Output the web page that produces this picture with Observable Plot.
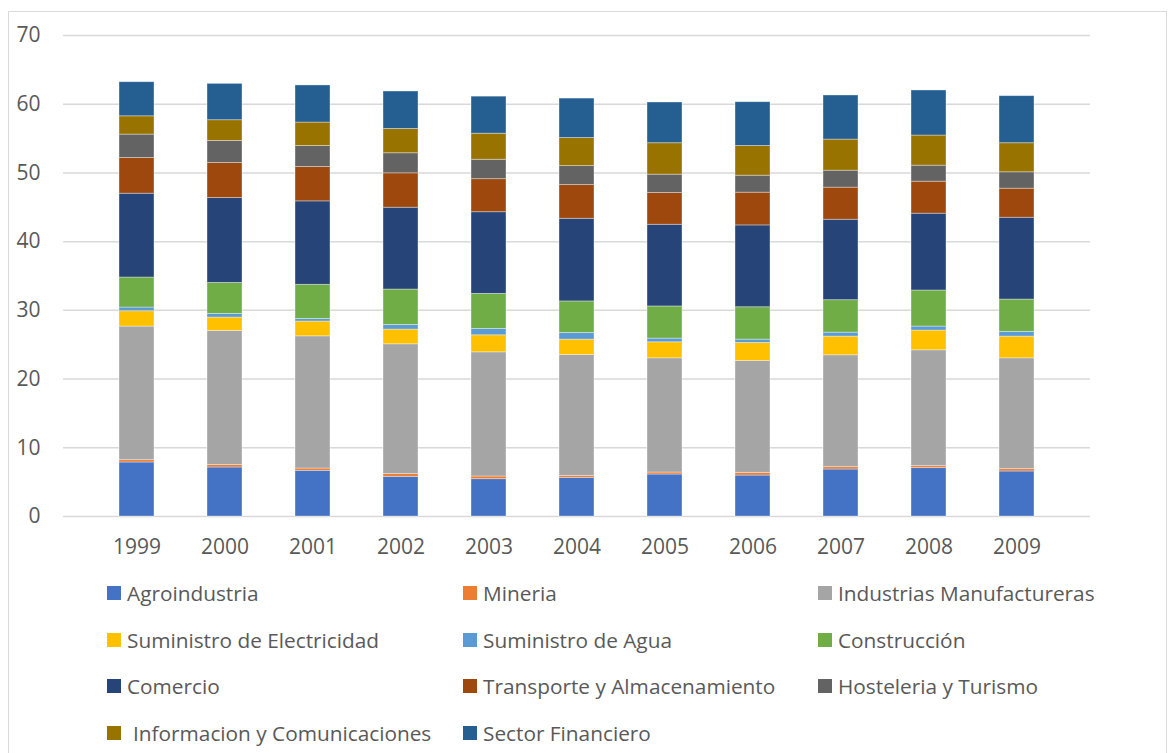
<!DOCTYPE html>
<html>
<head>
<meta charset="utf-8">
<script src="https://cdn.jsdelivr.net/npm/d3@7"></script>
<script src="https://cdn.jsdelivr.net/npm/@observablehq/plot@0.6"></script>
<style>
  html, body { margin: 0; padding: 0; background: #fff; }
  body { width: 1172px; height: 753px; overflow: hidden; position: relative; font-family: "Open Sans", sans-serif; }
  #frame { position: absolute; left: 8px; top: 11px; width: 1159px; height: 780px; border: 1px solid #d9d9d9; box-sizing: border-box; }
  #chart { position: absolute; left: 0; top: 0; }
  #legend { position: absolute; left: 0; top: 0; width: 1172px; }
  .item { position: absolute; display: flex; align-items: center; font-size: 20.8px; color: #595959; white-space: nowrap; line-height: 1; }
  .sw { width: 14px; height: 14px; margin-right: 6px; flex: none; }
</style>
</head>
<body>
<div id="frame"></div>
<div id="chart"></div>
<div id="legend"></div>
<script>
const years = ["1999","2000","2001","2002","2003","2004","2005","2006","2007","2008","2009"];
const series = ["Agroindustria","Mineria","Industrias Manufactureras","Suministro de Electricidad","Suministro de Agua","Construcción","Comercio","Transporte y Almacenamiento","Hosteleria y Turismo","Informacion y Comunicaciones","Sector Financiero"];
const colors = ["#4472C4","#ED7D31","#A5A5A5","#FFC000","#5B9BD5","#70AD47","#264478","#9E480E","#636363","#997300","#255E91"];

const agroindustria   = [7.86, 7.13, 6.65, 5.77, 5.43, 5.63, 6.11, 5.96, 6.84, 7.04, 6.55];
const mineria         = [0.34, 0.35, 0.33, 0.40, 0.39, 0.29, 0.29, 0.40, 0.34, 0.29, 0.34];
const industrias      = [19.44, 19.53, 19.24, 18.89, 18.07, 17.59, 16.62, 16.28, 16.28, 16.86, 16.13];
const electricidad    = [2.23, 1.94, 2.15, 2.14, 2.48, 2.23, 2.33, 2.62, 2.72, 2.87, 3.16];
const agua            = [0.54, 0.54, 0.39, 0.68, 0.93, 0.97, 0.54, 0.48, 0.58, 0.58, 0.69];
const construccion    = [4.37, 4.51, 4.96, 5.15, 5.10, 4.59, 4.68, 4.71, 4.72, 5.25, 4.70];
const comercio        = [12.20, 12.34, 12.14, 11.91, 11.88, 12.03, 11.89, 11.91, 11.71, 11.18, 11.91];
const transporte      = [5.19, 5.10, 5.00, 5.00, 4.81, 4.90, 4.61, 4.77, 4.67, 4.66, 4.23];
const hosteleria      = [3.41, 3.21, 3.06, 2.92, 2.83, 2.76, 2.68, 2.47, 2.47, 2.33, 2.38];
const informacion     = [2.66, 3.02, 3.41, 3.54, 3.79, 4.09, 4.57, 4.32, 4.52, 4.38, 4.23];
const financiero      = [4.96, 5.29, 5.40, 5.45, 5.39, 5.74, 5.93, 6.37, 6.42, 6.56, 6.85];

const valueLists = [agroindustria, mineria, industrias, electricidad, agua, construccion, comercio, transporte, hosteleria, informacion, financiero];
const yTicks = [0, 10, 20, 30, 40, 50, 60, 70];

const data = [];
series.forEach((s, i) => years.forEach((y, j) => data.push({year: y, series: s, value: valueLists[i][j]})));

const plot = Plot.plot({
  width: 1172,
  height: 566,
  marginTop: 35,
  marginBottom: 50,
  marginLeft: 63,
  marginRight: 82,
  style: {fontFamily: "'Open Sans', sans-serif", fontSize: "20px", color: "#595959", background: "transparent"},
  x: {domain: years, padding: 0.6, label: null, tickSize: 0},
  y: {domain: [0, 70], ticks: yTicks, label: null, tickSize: 0},
  color: {domain: series, range: colors},
  marks: [
    Plot.gridY(yTicks, {stroke: "#d9d9d9", strokeOpacity: 1, strokeWidth: 1.5}),
    Plot.barY(data, Plot.stackY({
      x: "year", y: "value", fill: "series",
      order: series,
      stroke: "#ffffff", strokeOpacity: 0.45, strokeWidth: 0.8
    })),
    Plot.axisX({tickSize: 0, tickPadding: 23, fontSize: 21, fill: "#595959"}),
    Plot.axisY(yTicks, {tickSize: 0, tickPadding: 23, fontSize: 21, fill: "#595959"})
  ]
});
document.getElementById("chart").appendChild(plot);

// Legend
const legend = document.getElementById("legend");
const colX = [107, 463, 818];
const rowY = [593, 640, 686, 733];
series.forEach((s, i) => {
  const r = Math.floor(i / 3), c = i % 3;
  const div = document.createElement("div");
  div.className = "item";
  div.style.left = colX[c] + "px";
  div.style.top = (rowY[r] - 11) + "px";
  div.style.height = "22px";
  const sw = document.createElement("span");
  sw.className = "sw";
  sw.style.background = colors[i];
  if (s === "Informacion y Comunicaciones") sw.style.marginRight = "12px";
  const t = document.createElement("span");
  t.textContent = s;
  div.appendChild(sw);
  div.appendChild(t);
  legend.appendChild(div);
});
</script>
</body>
</html>
